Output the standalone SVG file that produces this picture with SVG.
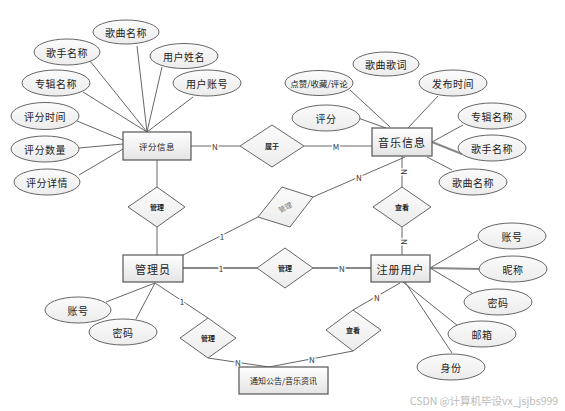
<svg xmlns="http://www.w3.org/2000/svg" width="565" height="411" viewBox="0 0 565 411">
<defs>
<linearGradient id="g" x1="0" y1="0" x2="0" y2="1"><stop offset="0" stop-color="#ffffff"/><stop offset="1" stop-color="#e4e4e4"/></linearGradient>
<linearGradient id="ge" x1="0" y1="0" x2="0" y2="1"><stop offset="0" stop-color="#fbfbfb"/><stop offset="1" stop-color="#ececec"/></linearGradient>
</defs>
<style>
.e{fill:url(#g);stroke:#555;stroke-width:1.2}
.a{fill:url(#ge);stroke:#666;stroke-width:1}
.d{fill:url(#ge);stroke:#666;stroke-width:1}
.l{stroke:#666;stroke-width:1;fill:none}
.lt{stroke:#888;stroke-width:2;fill:none}
text{font-family:"Noto Sans CJK SC","Liberation Sans",sans-serif;text-anchor:middle;dominant-baseline:central;fill:#222}
.t{font-size:10px;letter-spacing:0.5px}
.et{font-size:11px;letter-spacing:1px}
.dt{font-size:7px;font-weight:bold}
.c{font-size:8px;fill:#333}
</style>
<rect width="565" height="411" fill="#fff"/>
<g id="connectors">
<line class="l" x1="137" y1="46" x2="147" y2="132"/>
<line class="l" x1="90" y1="61" x2="147" y2="132"/>
<line class="l" x1="162" y1="67" x2="147" y2="132"/>
<line class="l" x1="193" y1="97" x2="147" y2="132"/>
<line class="l" x1="83" y1="92" x2="147" y2="132"/>
<line class="l" x1="77" y1="121" x2="123" y2="140"/>
<line class="l" x1="79" y1="148" x2="123" y2="144"/>
<line class="l" x1="79" y1="175" x2="123" y2="149"/>
<line class="l" x1="191" y1="146" x2="240" y2="146"/>
<line class="l" x1="304" y1="146" x2="372" y2="146"/>
<line class="l" x1="157" y1="160" x2="157" y2="187"/>
<line class="l" x1="157" y1="227" x2="157" y2="255"/>
<line class="l" x1="183" y1="255" x2="258" y2="217"/>
<line class="l" x1="313" y1="197" x2="405" y2="157"/>
<line class="l" x1="402" y1="156" x2="402" y2="187"/>
<line class="l" x1="402" y1="227" x2="402" y2="255"/>
<line class="lt" x1="183" y1="268" x2="257" y2="268"/>
<line class="lt" x1="313" y1="268" x2="371" y2="268"/>
<line class="l" x1="155" y1="283" x2="208" y2="318"/>
<line class="l" x1="208" y1="358" x2="269" y2="367"/>
<line class="l" x1="155" y1="283" x2="106" y2="302"/>
<line class="l" x1="155" y1="283" x2="136" y2="319"/>
<line class="l" x1="353" y1="310" x2="400" y2="283"/>
<line class="l" x1="353" y1="351" x2="269" y2="367"/>
<line class="l" x1="430" y1="268" x2="478" y2="240"/>
<line class="lt" x1="430" y1="268" x2="480" y2="269"/>
<line class="l" x1="430" y1="268" x2="472" y2="293"/>
<line class="l" x1="403" y1="282" x2="458" y2="326"/>
<line class="l" x1="405" y1="282" x2="452" y2="353"/>
<line class="l" x1="350" y1="90" x2="390" y2="127"/>
<line class="l" x1="358" y1="118" x2="386" y2="128"/>
<line class="l" x1="438" y1="96" x2="408" y2="128"/>
<line class="l" x1="463" y1="125" x2="432" y2="142"/>
<line class="lt" x1="432" y1="142" x2="462" y2="154"/>
<line class="l" x1="427" y1="157" x2="452" y2="170"/>
</g>
<g id="edge-labels">
<text class="c" x="215" y="146" style="paint-order:stroke" stroke="#fff" stroke-width="3">N</text>
<text class="c" x="336" y="146" style="paint-order:stroke" stroke="#fff" stroke-width="3">M</text>
<text class="c" x="222" y="236" style="paint-order:stroke" stroke="#fff" stroke-width="3">1</text>
<text class="c" x="359" y="177" style="paint-order:stroke" stroke="#fff" stroke-width="3">N</text>
<text class="c" x="404" y="172" transform="rotate(90 404 172)" style="paint-order:stroke" stroke="#fff" stroke-width="3">N</text>
<text class="c" x="404" y="242" transform="rotate(90 404 242)" style="paint-order:stroke" stroke="#fff" stroke-width="3">N</text>
<text class="c" x="221" y="268" style="paint-order:stroke" stroke="#fff" stroke-width="3">1</text>
<text class="c" x="342" y="268" style="paint-order:stroke" stroke="#fff" stroke-width="3">N</text>
<text class="c" x="182" y="301" style="paint-order:stroke" stroke="#fff" stroke-width="3">1</text>
<text class="c" x="238" y="362" style="paint-order:stroke" stroke="#fff" stroke-width="3">N</text>
<text class="c" x="377" y="297" style="paint-order:stroke" stroke="#fff" stroke-width="3">N</text>
<text class="c" x="312" y="359" style="paint-order:stroke" stroke="#fff" stroke-width="3">N</text>
</g>
<g id="pingfen"><rect class="e" x="123" y="132" width="68" height="28"/><text x="157" y="146" style="font-size:8.5px;letter-spacing:0.5px">评分信息</text></g>
<g id="yinyue"><rect class="e" x="372" y="128" width="60" height="28"/><text class="et" x="402" y="142">音乐信息</text></g>
<g id="guanliyuan"><rect class="e" x="123" y="255" width="60" height="27"/><text class="et" x="153" y="268.5">管理员</text></g>
<g id="zhuce"><rect class="e" x="371" y="255" width="59" height="27"/><text class="et" x="400.5" y="268.5">注册用户</text></g>
<g id="tongzhi"><rect class="e" x="239" y="367" width="89" height="27"/><text x="283.5" y="380.5" style="font-size:8px">通知公告/音乐资讯</text></g>
<g id="r-shuyu"><polygon class="d" points="240,146 272,125 304,146 272,167"/><text class="dt" x="272" y="146">属于</text></g>
<g id="r-guanli1"><polygon class="d" points="128,207 157,187 185,207 157,227"/><text class="dt" x="157" y="207">管理</text></g>
<g id="r-guanli2"><polygon class="d" points="258,217 282,187 313,197 290,227"/><text x="285" y="207" transform="rotate(-28 285 207)" style="font-size:7px;fill:#777">管理</text></g>
<g id="r-chakan1"><polygon class="d" points="373,207 402,187 431,207 402,227"/><text class="dt" x="402" y="207">查看</text></g>
<g id="r-guanli3"><polygon class="d" points="257,268 285,248 313,268 285,288"/><text class="dt" x="285" y="268">管理</text></g>
<g id="r-guanli4"><polygon class="d" points="180,338 208,318 236,338 208,358"/><text class="dt" x="208" y="338">管理</text></g>
<g id="r-chakan2"><polygon class="d" points="326,330 353,310 381,330 353,351"/><text class="dt" x="353" y="330">查看</text></g>
<g id="a-gequmingcheng1"><ellipse class="a" cx="126" cy="32" rx="33" ry="12"/><text class="t" x="126" y="32">歌曲名称</text></g>
<g id="a-geshou1"><ellipse class="a" cx="67" cy="52" rx="33" ry="13"/><text class="t" x="67" y="52">歌手名称</text></g>
<g id="a-yonghuxingming"><ellipse class="a" cx="184" cy="56" rx="34" ry="12.5"/><text class="t" x="184" y="56">用户姓名</text></g>
<g id="a-yonghuzhanghao"><ellipse class="a" cx="207" cy="83" rx="34" ry="13"/><text class="t" x="207" y="83">用户账号</text></g>
<g id="a-zhuanji1"><ellipse class="a" cx="56" cy="83" rx="34" ry="13"/><text class="t" x="56" y="83">专辑名称</text></g>
<g id="a-pfsj"><ellipse class="a" cx="45" cy="116" rx="34" ry="13.5"/><text class="t" x="45" y="116">评分时间</text></g>
<g id="a-pfsl"><ellipse class="a" cx="45" cy="149" rx="34" ry="13"/><text class="t" x="45" y="149">评分数量</text></g>
<g id="a-pfxq"><ellipse class="a" cx="47" cy="182" rx="33" ry="13"/><text class="t" x="47" y="182">评分详情</text></g>
<g id="a-geci"><ellipse class="a" cx="386" cy="64" rx="33" ry="12"/><text class="t" x="386" y="64">歌曲歌词</text></g>
<g id="a-dianzan"><ellipse class="a" cx="319" cy="83" rx="34" ry="12.5"/><text x="319" y="83" style="font-size:8.5px">点赞/收藏/评论</text></g>
<g id="a-fabu"><ellipse class="a" cx="453" cy="83" rx="34" ry="13"/><text class="t" x="453" y="83">发布时间</text></g>
<g id="a-pingfen"><ellipse class="a" cx="326" cy="118" rx="34" ry="13"/><text class="t" x="326" y="118">评分</text></g>
<g id="a-zhuanji2"><ellipse class="a" cx="492" cy="116" rx="34" ry="13"/><text class="t" x="492" y="116">专辑名称</text></g>
<g id="a-geshou2"><ellipse class="a" cx="492" cy="148" rx="34" ry="13"/><text class="t" x="492" y="148">歌手名称</text></g>
<g id="a-gequmingcheng2"><ellipse class="a" cx="473" cy="182" rx="34" ry="13"/><text class="t" x="473" y="182">歌曲名称</text></g>
<g id="a-zhanghao1"><ellipse class="a" cx="78" cy="310" rx="33" ry="13"/><text class="t" x="78" y="310">账号</text></g>
<g id="a-mima1"><ellipse class="a" cx="123" cy="332" rx="34" ry="13"/><text class="t" x="123" y="332">密码</text></g>
<g id="a-zhanghao2"><ellipse class="a" cx="512" cy="236" rx="34" ry="13"/><text class="t" x="512" y="236">账号</text></g>
<g id="a-nicheng"><ellipse class="a" cx="513" cy="269" rx="34" ry="13"/><text class="t" x="513" y="269">昵称</text></g>
<g id="a-mima2"><ellipse class="a" cx="498" cy="302" rx="34" ry="13"/><text class="t" x="498" y="302">密码</text></g>
<g id="a-youxiang"><ellipse class="a" cx="482" cy="334" rx="34" ry="13"/><text class="t" x="482" y="334">邮箱</text></g>
<g id="a-shenfen"><ellipse class="a" cx="451" cy="367" rx="34" ry="13"/><text class="t" x="451" y="367">身份</text></g>
<text x="484" y="400" style="font-size:10.5px;fill:#bbb">CSDN @计算机毕设vx_jsjbs999</text>
</svg>
